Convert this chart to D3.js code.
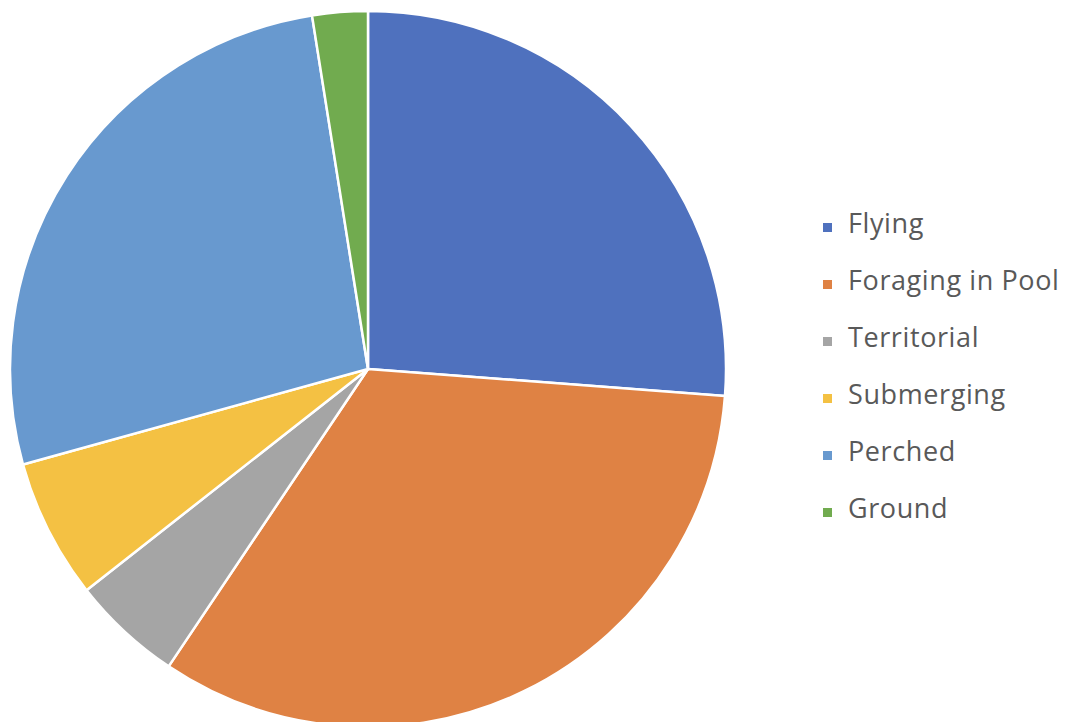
<!DOCTYPE html>
<html>
<head>
<meta charset="utf-8">
<script src="https://cdn.jsdelivr.net/npm/d3@7"></script>
<style>
  html, body { margin: 0; padding: 0; background: #fff; }
  svg { display: block; }
</style>
</head>
<body>
<svg id="chart" width="1069" height="722"></svg>
<script>
// Share of observed behaviour time (%)
const categories = ["Flying", "Foraging in Pool", "Territorial", "Submerging", "Perched", "Ground"];
const values = [26.2, 33.2, 5.0, 6.3, 26.8, 2.5];
const colors = ["#4f71be", "#df8244", "#a5a5a5", "#f4c143", "#6899cf", "#71ab4f"];

const svg = d3.select("#chart");
const cx = 368, cy = 369, radius = 358;

const color = d3.scaleOrdinal().domain(categories).range(colors);
const data = categories.map((c, i) => ({ name: c, value: values[i] }));

const pie = d3.pie().value(d => d.value).sort(null);
const arc = d3.arc().innerRadius(0).outerRadius(radius);

svg.append("g")
  .attr("transform", `translate(${cx},${cy})`)
  .selectAll("path")
  .data(pie(data))
  .join("path")
  .attr("d", arc)
  .attr("fill", d => color(d.data.name))
  .attr("stroke", "#ffffff")
  .attr("stroke-width", 2.5)
  .attr("stroke-linejoin", "round");

// Legend
const legend = svg.append("g").attr("transform", "translate(823,223)");
const rowGap = 57;
const rows = legend.selectAll("g")
  .data(categories)
  .join("g")
  .attr("transform", (d, i) => `translate(0,${i * rowGap})`);

rows.append("rect")
  .attr("x", 0).attr("y", 0)
  .attr("width", 9).attr("height", 9)
  .attr("fill", d => color(d));

rows.append("text")
  .attr("x", 25).attr("y", 10)
  .attr("font-family", "'Open Sans', sans-serif")
  .attr("font-size", 27)
  .attr("letter-spacing", 0.6)
  .attr("fill", "#595959")
  .text(d => d);
</script>
</body>
</html>
